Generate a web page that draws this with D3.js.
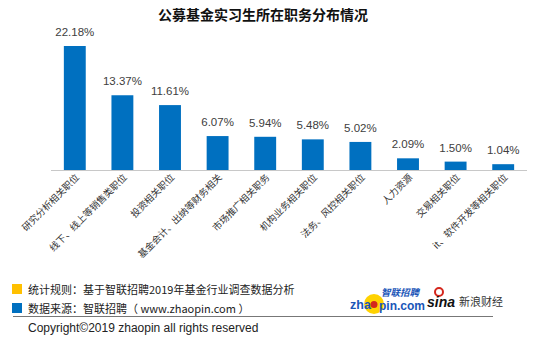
<!DOCTYPE html>
<html><head><meta charset="utf-8">
<script src="https://cdn.jsdelivr.net/npm/d3@7"></script>
<style>
body{margin:0;background:#fff;}
svg{display:block;font-family:"Noto Sans CJK SC","Noto Sans",sans-serif;}
</style></head><body>
<svg id="c" width="550" height="345"></svg>
<script>
const categories = ["研究分析相关职位","线下、线上等销售类职位","投资相关职位","基金会计、出纳等财务相关","市场推广相关职务","机构业务相关职位","法务、风控相关职位","人力资源","交易相关职位","it、软件开发等相关职位"];
const values = [22.18,13.37,11.61,6.07,5.94,5.48,5.02,2.09,1.50,1.04];
const valueLabels = ["22.18%","13.37%","11.61%","6.07%","5.94%","5.48%","5.02%","2.09%","1.50%","1.04%"];
const title = "公募基金实习生所在职务分布情况";
const notes = ["统计规则：基于智联招聘2019年基金行业调查数据分析","数据来源：智联招聘（ www.zhaopin.com ）"];
const noteColors = ["#FFC000","#0070C0"];
const copyright = "Copyright©2019 zhaopin all rights reserved";

const svg = d3.select("#c");
const x = d3.scaleBand().domain(categories).range([51,527]).paddingInner(0.54).paddingOuter(0.27);
const y = d3.scaleLinear().domain([0,22.18]).range([170,46]);

svg.append("text").attr("x",263).attr("y",20).attr("text-anchor","middle")
  .attr("font-size",14).attr("font-weight","bold").attr("fill","#111").text(title);

svg.selectAll("rect.bar").data(values).join("rect").attr("class","bar")
  .attr("x",(d,i)=>x(categories[i])).attr("width",x.bandwidth())
  .attr("y",d=>y(d)).attr("height",d=>y(0)-y(d)).attr("fill","#0070C0");

svg.append("line").attr("x1",51).attr("x2",527).attr("y1",170.5).attr("y2",170.5)
  .attr("stroke","#c8c8c8").attr("stroke-width",1);

svg.selectAll("text.val").data(values).join("text").attr("class","val")
  .attr("x",(d,i)=>x(categories[i])+x.bandwidth()/2).attr("y",d=>y(d)-10)
  .attr("text-anchor","middle").attr("font-family","'Liberation Sans',sans-serif")
  .attr("font-size",11.5).attr("fill","#404040").text((d,i)=>valueLabels[i]);

svg.selectAll("text.cat").data(categories).join("text").attr("class","cat")
  .attr("transform",(d)=>`translate(${x(d)+x.bandwidth()/2+5},${178}) rotate(-45)`)
  .attr("text-anchor","end").attr("font-size",9.5).attr("fill","#333").text(d=>d);

// notes
notes.forEach((t,i)=>{
  const yy = 289 + i*19;
  svg.append("rect").attr("x",12).attr("y",yy-5).attr("width",10).attr("height",10).attr("fill",noteColors[i]);
  svg.append("text").attr("x",28).attr("y",yy+4.5).attr("font-size",11).attr("fill","#222").text(t);
});
svg.append("line").attr("x1",13).attr("x2",493).attr("y1",316.5).attr("y2",316.5).attr("stroke","#777").attr("stroke-width",1);
svg.append("text").attr("x",28).attr("y",332).attr("font-size",12).attr("font-family","'Liberation Sans',sans-serif").attr("fill","#222").text(copyright);

// logos
const lg = svg.append("g");
lg.append("circle").attr("cx",374).attr("cy",304).attr("r",10).attr("fill","#FFD200");
lg.append("text").attr("x",350).attr("y",309).attr("font-size",12.5).attr("font-weight","bold")
  .attr("font-family","'Liberation Sans',sans-serif").attr("fill","#1a56b8").text("zha");
lg.append("circle").attr("cx",374).attr("cy",304.5).attr("r",3.5).attr("fill","#d4261c");
lg.append("text").attr("x",379).attr("y",310).attr("font-size",12).attr("font-weight","bold")
  .attr("font-family","'Liberation Sans',sans-serif").attr("fill","#1a56b8").text("pin.com");
lg.append("text").attr("x",381).attr("y",296).attr("font-size",9.5).attr("font-weight","bold").attr("font-style","italic")
  .attr("fill","#1a56b8").text("智联招聘");
lg.append("circle").attr("cx",439).attr("cy",292).attr("r",4).attr("fill","none").attr("stroke","#d4261c").attr("stroke-width",2);
lg.append("text").attr("x",427).attr("y",307).attr("font-size",14).attr("font-weight","bold").attr("font-style","italic")
  .attr("font-family","'Liberation Sans',sans-serif").attr("fill","#111").text("sina");
lg.append("text").attr("x",459).attr("y",306).attr("font-size",11).attr("fill","#333").text("新浪财经");
</script>
</body></html>
